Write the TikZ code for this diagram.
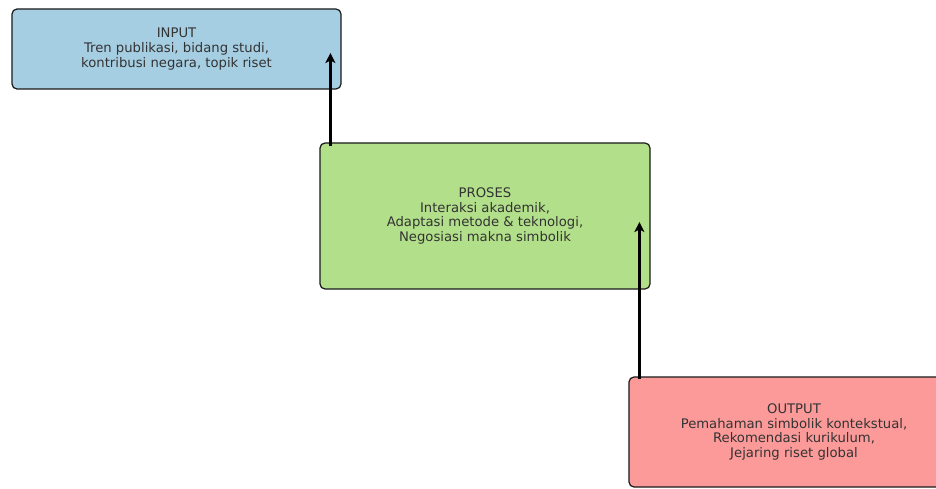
\documentclass[tikz,border=0pt]{standalone}
\usepackage{fontspec}
\setmainfont{DejaVu Sans}
\usetikzlibrary{arrows.meta}
\definecolor{inblue}{HTML}{A6CEE3}
\definecolor{prgreen}{HTML}{B2DF8A}
\definecolor{outred}{HTML}{FB9A99}
\definecolor{txt}{HTML}{333333}
\tikzset{
  box/.style={draw=black!90, line width=1.2pt, rounded corners=5pt, inner sep=0pt,
    align=center, text=txt, font=\fontsize{13.2}{14.8}\selectfont},
  arr/.style={line width=2.4pt, -{Stealth[length=10pt,width=10pt,inset=2.5pt]}}
}
\begin{document}
\begin{tikzpicture}[x=1pt,y=-1pt]
\useasboundingbox (0,0) rectangle (936,489);
\clip (0,0) rectangle (936,489);
\node[box, fill=inblue, minimum width=329pt, minimum height=80pt] (input) at (176.5,49)
  {INPUT\\Tren publikasi, bidang studi,\\kontribusi negara, topik riset};
\node[box, fill=prgreen, minimum width=330pt, minimum height=146pt] (proses) at (485,216)
  {PROSES\\Interaksi akademik,\\Adaptasi metode \& teknologi,\\Negosiasi makna simbolik};
\node[box, fill=outred, minimum width=330pt, minimum height=110pt] (output) at (794,432)
  {OUTPUT\\Pemahaman simbolik kontekstual,\\Rekomendasi kurikulum,\\Jejaring riset global};
\coordinate (a1) at ([xshift=11pt,yshift=-4pt]proses.north west);
\coordinate (b1) at ([yshift=-4pt]input.east);
\coordinate (a2) at ([xshift=11pt,yshift=-3pt]output.north west);
\coordinate (b2) at ([yshift=-6pt]proses.east);
\draw[arr] (a1) -- (a1 |- b1);
\draw[arr] (a2) -- (a2 |- b2);
\end{tikzpicture}
\end{document}
